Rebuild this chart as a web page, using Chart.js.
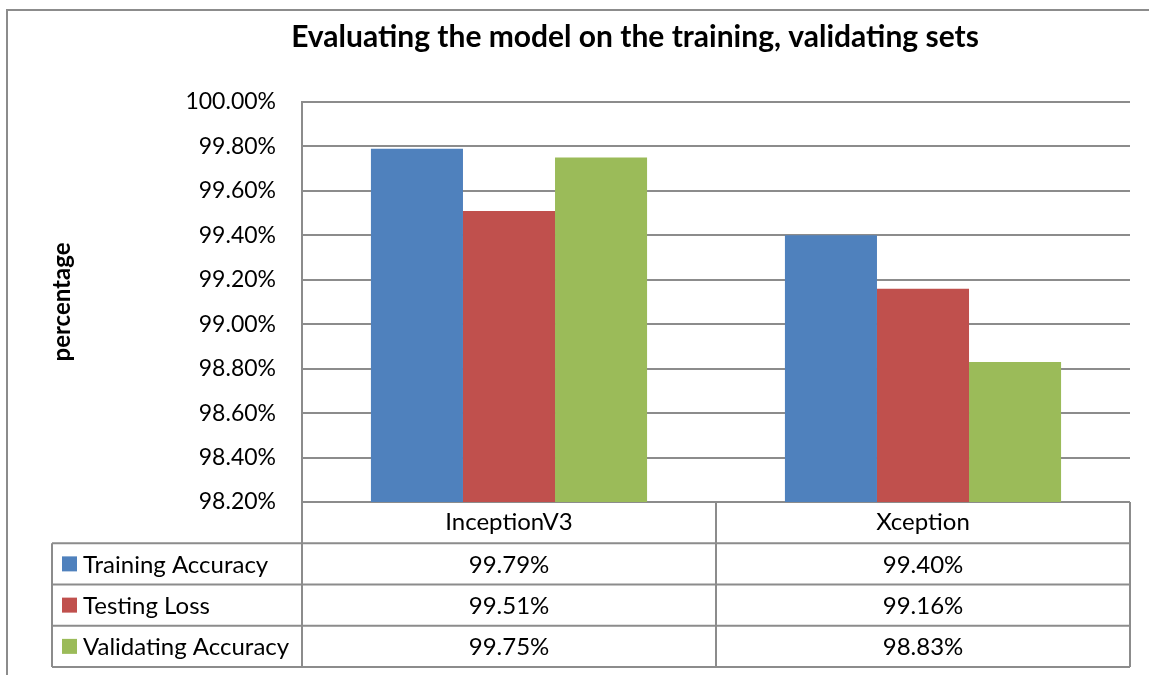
<!DOCTYPE html>
<html>
<head>
<meta charset="utf-8">
<script src="https://cdn.jsdelivr.net/npm/chart.js@4"></script>
<style>
    html, body { margin: 0; padding: 0; background: #fff; overflow: hidden; }
    #wrap { position: relative; width: 1149px; height: 675px; }
</style>
</head>
<body>
<div id="wrap"><canvas id="evalChart" width="1149" height="675"></canvas></div>
<script>
const models = ["InceptionV3", "Xception"];
const trainingAccuracy = [99.79, 99.40];
const testingLoss = [99.51, 99.16];
const validatingAccuracy = [99.75, 98.83];
const seriesNames = ["Training Accuracy", "Testing Loss", "Validating Accuracy"];
const seriesColors = ["#4F81BD", "#C0504D", "#9BBB59"];
const yMin = 98.2, yMax = 100, yStep = 0.2;

const FONT = "Lato";
const LINE = "#8c8c8c";

// outer frame + shift the title so it sits where Excel put it
const frame = {
    id: 'frame',
    afterLayout(chart) {
        if (chart.titleBlock) {
            chart.titleBlock.left = 7;
            chart.titleBlock.right = 1263;
        }
    },
    beforeDraw(chart) {
        const ctx = chart.ctx;
        ctx.save();
        ctx.strokeStyle = LINE;
        ctx.lineWidth = 2;
        ctx.strokeRect(7, 10, 1300, 800);
        ctx.restore();
    }
};

// data table under the plot, built from the x scale
const dataTable = {
    id: 'dataTable',
    afterDraw(chart) {
        const ctx = chart.ctx;
        const x = chart.scales.x;
        const area = chart.chartArea;
        const c0 = x.getPixelForValue(0), c1 = x.getPixelForValue(1);
        const half = (c1 - c0) / 2;
        const cols = [c0 - half, c0 + half, c1 + half];
        const tableLeft = 52;
        const rowH = 41.25;
        const top = area.bottom;
        const series = [trainingAccuracy, testingLoss, validatingAccuracy];

        ctx.save();
        ctx.strokeStyle = LINE;
        ctx.lineWidth = 2;
        ctx.beginPath();
        // vertical lines
        cols.forEach(cx => { ctx.moveTo(cx, top); ctx.lineTo(cx, top + rowH * 4); });
        ctx.moveTo(tableLeft, top + rowH); ctx.lineTo(tableLeft, top + rowH * 4);
        // horizontal lines
        for (let r = 1; r <= 4; r++) {
            ctx.moveTo(tableLeft, top + rowH * r);
            ctx.lineTo(cols[2], top + rowH * r);
        }
        ctx.stroke();

        ctx.font = "24px " + FONT;
        ctx.fillStyle = "#000";
        ctx.textBaseline = "middle";
        series.forEach((vals, i) => {
            const cy = top + rowH * (i + 1) + rowH / 2;
            ctx.fillStyle = seriesColors[i];
            ctx.fillRect(tableLeft + 10, cy - 7.5, 15, 15);
            ctx.fillStyle = "#000";
            ctx.textAlign = "left";
            ctx.fillText(seriesNames[i], tableLeft + 31, cy + 1);
            ctx.textAlign = "center";
            vals.forEach((v, j) => {
                ctx.fillText(v.toFixed(2) + "%", x.getPixelForValue(j), cy + 1);
            });
        });
        ctx.restore();
    }
};

const ctx = document.getElementById('evalChart').getContext('2d');

const evalChart = new Chart(ctx, {
    type: 'bar',
    data: {
        labels: models,
        datasets: seriesNames.map((name, i) => ({
            label: name,
            data: [trainingAccuracy, testingLoss, validatingAccuracy][i],
            backgroundColor: seriesColors[i],
            borderWidth: 0
        }))
    },
    options: {
        responsive: false,
        animation: false,
        layout: { padding: { left: 50, right: 19, top: 0, bottom: 8 } },
        categoryPercentage: 0.667,
        barPercentage: 1,
        plugins: {
            legend: { display: false },
            tooltip: { enabled: false },
            title: {
                display: true,
                text: 'Evaluating the model on the training, validating sets',
                color: '#000',
                font: { family: FONT, size: 30, weight: 'bold', lineHeight: 1.2 },
                padding: { top: 19, bottom: 47 }
            }
        },
        scales: {
            x: {
                grid: { display: false, drawTicks: false },
                border: { display: false },
                ticks: { color: '#000', padding: 6, font: { family: FONT, size: 24 } },
                afterFit(scale) { scale.height = 165; }
            },
            y: {
                min: yMin,
                max: yMax,
                grid: { color: LINE, lineWidth: 2, drawTicks: false },
                border: { display: true, color: LINE, width: 2 },
                ticks: {
                    stepSize: yStep,
                    color: '#000',
                    padding: 26,
                    font: { family: FONT, size: 23 },
                    callback: v => v.toFixed(2) + '%'
                },
                title: {
                    display: true,
                    text: 'percentage',
                    color: '#000',
                    padding: 0,
                    font: { family: FONT, size: 24, weight: 'bold', lineHeight: 1.0 }
                },
                afterFit(scale) { scale.width = 252; }
            }
        }
    },
    plugins: [frame, dataTable]
});
</script>
</body>
</html>
